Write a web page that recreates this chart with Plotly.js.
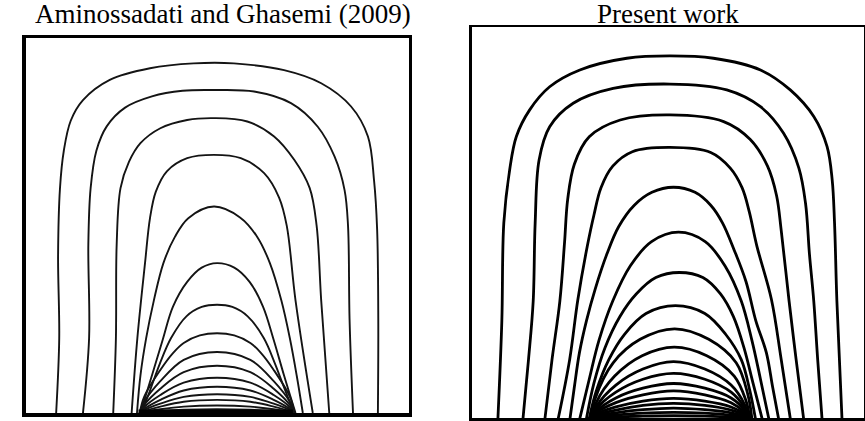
<!DOCTYPE html>
<html><head><meta charset="utf-8">
<script src="https://cdn.plot.ly/plotly-3.0.1.min.js"></script>
<style>html,body{margin:0;padding:0;background:#fff}#chart{width:865px;height:421px}</style>
</head><body><div id="chart"></div>
<script>
// Panel titles
const panelTitles = ["Aminossadati and Ghasemi (2009)", "Present work"];
// Heat source on the bottom wall (dimensionless X)
const heaterX = [0.295, 0.698];
const heaterY = [0, 0];

// Left panel isotherms (dimensionless X, Y)
const leftIsoX = [
 [0.080,0.088,0.085,0.090,0.100,0.118,0.150,0.220,0.325,0.439,0.544,0.675,0.772,0.850,0.894,0.910,0.918,0.921,0.920],
 [0.150,0.166,0.164,0.170,0.185,0.212,0.260,0.330,0.410,0.492,0.597,0.693,0.763,0.807,0.833,0.842,0.846,0.855],
 [0.229,0.236,0.238,0.248,0.270,0.300,0.352,0.422,0.492,0.579,0.649,0.702,0.742,0.760,0.772,0.793],
 [0.277,0.292,0.312,0.325,0.340,0.369,0.422,0.492,0.562,0.623,0.662,0.682,0.705,0.750],
 [0.291,0.300,0.315,0.335,0.360,0.390,0.425,0.492,0.560,0.605,0.638,0.668,0.690,0.708,0.724],
 [0.300,0.330,0.358,0.385,0.422,0.460,0.500,0.545,0.585,0.620,0.648,0.675,0.705],
 [0.303,0.325,0.350,0.380,0.420,0.460,0.500,0.540,0.580,0.622,0.652,0.678,0.702],
 [0.298,0.310,0.352,0.385,0.413,0.455,0.500,0.545,0.587,0.615,0.648,0.690,0.702],
 [0.298,0.310,0.352,0.413,0.500,0.587,0.648,0.690,0.702],
 [0.298,0.310,0.352,0.413,0.500,0.587,0.648,0.690,0.702],
 [0.298,0.310,0.352,0.413,0.500,0.587,0.648,0.690,0.702],
 [0.298,0.310,0.352,0.413,0.500,0.587,0.648,0.690,0.702],
 [0.298,0.310,0.352,0.413,0.500,0.587,0.648,0.690,0.702],
 [0.298,0.310,0.352,0.413,0.500,0.587,0.648,0.690,0.702],
 [0.298,0.310,0.352,0.413,0.500,0.587,0.648,0.690,0.702],
 [0.298,0.310,0.352,0.413,0.500,0.587,0.648,0.690,0.702]
];
const leftIsoY = [
 [0,0.20,0.42,0.60,0.70,0.78,0.835,0.889,0.920,0.933,0.933,0.915,0.880,0.818,0.738,0.620,0.490,0.25,0],
 [0,0.20,0.45,0.60,0.70,0.765,0.815,0.845,0.860,0.862,0.858,0.827,0.764,0.684,0.595,0.50,0.25,0],
 [0,0.20,0.45,0.60,0.67,0.72,0.760,0.782,0.787,0.778,0.738,0.675,0.600,0.50,0.30,0],
 [0,0.20,0.40,0.52,0.59,0.645,0.680,0.689,0.680,0.640,0.575,0.50,0.30,0],
 [0,0.10,0.20,0.30,0.40,0.47,0.520,0.551,0.522,0.47,0.40,0.30,0.20,0.10,0],
 [0,0.10,0.195,0.284,0.350,0.388,0.400,0.388,0.350,0.284,0.195,0.10,0],
 [0,0.06,0.13,0.20,0.258,0.283,0.289,0.283,0.258,0.20,0.13,0.06,0],
 [0,0.044,0.115,0.160,0.187,0.207,0.213,0.207,0.187,0.160,0.115,0.044,0],
 [0,0.030,0.085,0.142,0.163,0.142,0.085,0.030,0],
 [0,0.022,0.065,0.109,0.126,0.109,0.065,0.022,0],
 [0,0.016,0.048,0.081,0.094,0.081,0.048,0.016,0],
 [0,0.011,0.035,0.060,0.070,0.060,0.035,0.011,0],
 [0,0.008,0.025,0.043,0.050,0.043,0.025,0.008,0],
 [0,0.005,0.017,0.030,0.035,0.030,0.017,0.005,0],
 [0,0.003,0.010,0.017,0.020,0.017,0.010,0.003,0],
 [0,0.0015,0.005,0.0085,0.010,0.0085,0.005,0.0015,0]
];

// Right panel isotherms (dimensionless X, Y)
const rightIsoX = [
 [0.067,0.077,0.082,0.097,0.114,0.148,0.199,0.276,0.396,0.506,0.617,0.737,0.813,0.873,0.907,0.920,0.926,0.932,0.945],
 [0.131,0.145,0.157,0.162,0.172,0.199,0.259,0.361,0.506,0.651,0.737,0.796,0.835,0.852,0.862,0.873,0.883,0.894],
 [0.187,0.205,0.225,0.237,0.245,0.262,0.300,0.379,0.506,0.643,0.711,0.755,0.778,0.790,0.810,0.828,0.847],
 [0.221,0.250,0.271,0.295,0.312,0.330,0.360,0.410,0.506,0.610,0.660,0.690,0.708,0.728,0.765,0.790,0.813],
 [0.251,0.262,0.275,0.293,0.315,0.345,0.375,0.415,0.460,0.515,0.570,0.610,0.640,0.670,0.700,0.725,0.752,0.768,0.783],
 [0.276,0.300,0.325,0.360,0.405,0.459,0.528,0.596,0.647,0.688,0.715,0.737,0.758],
 [0.293,0.312,0.340,0.378,0.420,0.470,0.530,0.590,0.635,0.668,0.695,0.718,0.741],
 [0.300,0.318,0.350,0.390,0.445,0.520,0.595,0.648,0.688,0.710,0.724],
 [0.305,0.315,0.361,0.430,0.518,0.605,0.675,0.705,0.715],
 [0.308,0.318,0.365,0.435,0.517,0.600,0.670,0.700,0.710],
 [0.310,0.320,0.368,0.437,0.515,0.595,0.662,0.697,0.707],
 [0.310,0.320,0.368,0.437,0.515,0.595,0.662,0.697,0.707],
 [0.310,0.320,0.368,0.437,0.515,0.595,0.662,0.697,0.707],
 [0.310,0.320,0.368,0.437,0.515,0.595,0.662,0.697,0.707],
 [0.310,0.320,0.368,0.437,0.515,0.595,0.662,0.697,0.707],
 [0.310,0.320,0.368,0.437,0.515,0.595,0.662,0.697,0.707],
 [0.310,0.320,0.368,0.437,0.515,0.595,0.662,0.697,0.707],
 [0.310,0.320,0.368,0.437,0.515,0.595,0.662,0.697,0.707],
 [0.310,0.320,0.368,0.437,0.515,0.595,0.662,0.697,0.707]
];
const rightIsoY = [
 [0,0.25,0.50,0.636,0.721,0.789,0.848,0.891,0.921,0.927,0.921,0.891,0.840,0.772,0.695,0.610,0.50,0.30,0],
 [0,0.15,0.30,0.50,0.661,0.746,0.806,0.844,0.855,0.840,0.797,0.729,0.64,0.55,0.42,0.30,0.15,0],
 [0,0.15,0.30,0.45,0.56,0.65,0.720,0.763,0.776,0.759,0.713,0.645,0.57,0.48,0.30,0.15,0],
 [0,0.15,0.304,0.44,0.52,0.59,0.645,0.682,0.693,0.680,0.640,0.590,0.53,0.44,0.304,0.15,0],
 [0,0.08,0.168,0.25,0.33,0.42,0.49,0.545,0.578,0.591,0.578,0.545,0.50,0.43,0.35,0.25,0.168,0.08,0],
 [0,0.10,0.20,0.30,0.39,0.452,0.476,0.452,0.389,0.30,0.20,0.10,0],
 [0,0.09,0.18,0.26,0.318,0.360,0.373,0.360,0.318,0.26,0.18,0.09,0],
 [0,0.07,0.15,0.215,0.268,0.288,0.268,0.215,0.15,0.07,0],
 [0,0.05,0.142,0.202,0.229,0.202,0.142,0.06,0],
 [0,0.040,0.108,0.160,0.182,0.160,0.108,0.045,0],
 [0,0.032,0.085,0.126,0.145,0.126,0.085,0.034,0],
 [0,0.025,0.067,0.100,0.115,0.100,0.067,0.026,0],
 [0,0.019,0.052,0.077,0.089,0.077,0.052,0.020,0],
 [0,0.015,0.040,0.060,0.070,0.060,0.040,0.015,0],
 [0,0.011,0.029,0.044,0.051,0.044,0.029,0.011,0],
 [0,0.008,0.021,0.033,0.038,0.033,0.021,0.008,0],
 [0,0.005,0.014,0.022,0.026,0.022,0.014,0.005,0],
 [0,0.003,0.008,0.013,0.015,0.013,0.008,0.003,0],
 [0,0.0012,0.0035,0.0055,0.0065,0.0055,0.0035,0.0012,0]
];

const traces = [];
leftIsoX.forEach((xs, i) => traces.push({
  x: xs, y: leftIsoY[i], xaxis: 'x', yaxis: 'y', type: 'scatter', mode: 'lines',
  line: {color: '#141414', width: 1.9, shape: 'spline', smoothing: 1}, hoverinfo: 'skip', showlegend: false
}));
rightIsoX.forEach((xs, i) => traces.push({
  x: xs, y: rightIsoY[i], xaxis: 'x2', yaxis: 'y2', type: 'scatter', mode: 'lines',
  line: {color: '#000', width: 2.8, shape: 'spline', smoothing: 1}, hoverinfo: 'skip', showlegend: false
}));
traces.push({x: heaterX, y: heaterY, xaxis: 'x', yaxis: 'y', type: 'scatter', mode: 'lines',
  line: {color: '#000', width: 7}, hoverinfo: 'skip', showlegend: false, cliponaxis: false});

const ax = (dom, lw) => ({domain: dom, range: [0, 1], showgrid: false, zeroline: false,
  showticklabels: false, ticks: '', showline: true, mirror: true, linecolor: '#000', linewidth: lw, fixedrange: true});

const titleFont = {family: 'Liberation Serif, Times New Roman, serif', size: 27, color: '#000'};
const layout = {
  width: 865, height: 421, margin: {l: 0, r: 0, t: 0, b: 0},
  paper_bgcolor: '#fff', plot_bgcolor: '#fff', showlegend: false,
  xaxis: Object.assign(ax([0.0295, 0.4723], 3.5), {anchor: 'y'}),
  yaxis: Object.assign(ax([0.019, 0.909], 3.5), {anchor: 'x'}),
  xaxis2: Object.assign(ax([0.5453, 0.9983], 2.2), {anchor: 'y2'}),
  yaxis2: Object.assign(ax([0.0064, 0.935], 2.2), {anchor: 'x2'}),
  annotations: [
    {text: panelTitles[0], xref: 'paper', yref: 'paper', x: 0.258, y: 0.9656, xanchor: 'center', yanchor: 'middle',
     showarrow: false, font: titleFont},
    {text: panelTitles[1], xref: 'paper', yref: 'paper', x: 0.7726, y: 0.9656, xanchor: 'center', yanchor: 'middle',
     showarrow: false, font: titleFont}
  ]
};
Plotly.newPlot('chart', traces, layout, {staticPlot: true, displayModeBar: false});
</script></body></html>
